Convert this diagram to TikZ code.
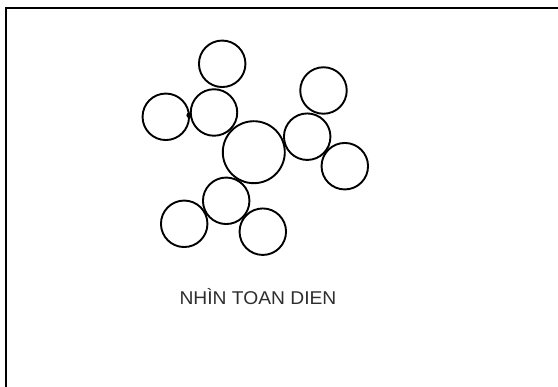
\documentclass[tikz,border=0pt]{standalone}
\usepackage{fontspec}
\setmainfont{Liberation Sans}
\begin{document}
\begin{tikzpicture}[x=1pt,y=-1pt,
  ring/.style={circle,draw=black,line width=1.9pt,inner sep=0pt,minimum size=46.5pt},
  bigring/.style={circle,draw=black,line width=1.9pt,inner sep=0pt,minimum size=62pt},
  frameline/.style={draw=black,line width=2pt}]
\useasboundingbox (0,0) rectangle (558,387);
\fill[white] (0,0) rectangle (558,387);
\draw[frameline] (6,387) -- (6,8) -- (558,8);
% centre
\node[bigring] (c) at (253.8,152.2) {};
% upper-left group
\node[ring] (ul) at (214,112.5) {};
\node[ring] (ult) at (222.2,63.8) {};
\node[ring] (ull) at (165.8,116.8) {};
% right group
\node[ring] (r) at (307.2,136.7) {};
\node[ring] (rt) at (323.5,90.5) {};
\node[ring] (rr) at (344.8,166.2) {};
% lower group
\node[ring] (lo) at (226.2,200.8) {};
\node[ring] (lol) at (184.2,223.8) {};
\node[ring] (lor) at (262.8,231.7) {};
% dot
\fill[black] (189.2,115.3) circle (2.8pt);
% label
\node[text=black!82,font=\fontsize{18.5}{21}\selectfont,anchor=base,inner sep=0pt] (lbl) at (258,305)
  {\scalebox{1.04}[1]{NHÌN TOAN DIEN}};
\end{tikzpicture}
\end{document}
